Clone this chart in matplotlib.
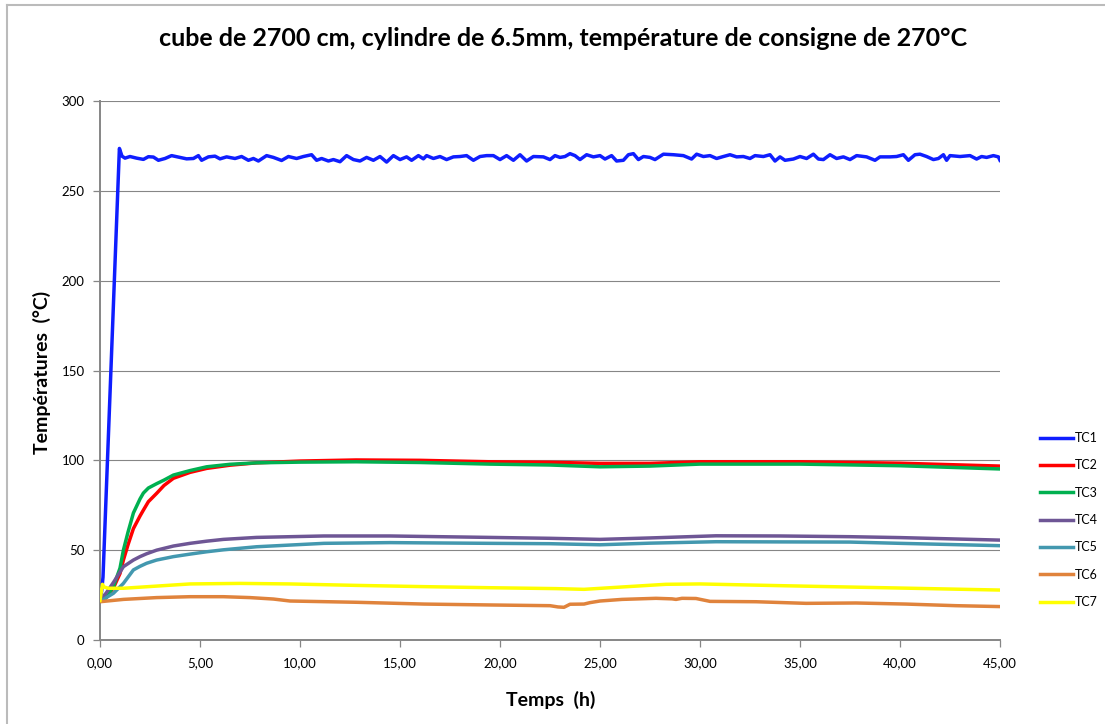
import matplotlib
matplotlib.use("Agg")
import matplotlib.pyplot as plt
from matplotlib.lines import Line2D
from matplotlib.ticker import FuncFormatter

plt.rcParams['font.family'] = ['Lato', 'DejaVu Sans']

title = "cube de 2700 cm, cylindre de 6.5mm, température de consigne de 270°C"
xlabel = "Temps  (h)"
ylabel = "Températures  (°C)"
series_names = ["TC1", "TC2", "TC3", "TC4", "TC5", "TC6", "TC7"]
colors = ["#0F1EFF", "#FF0000", "#00B050", "#6E5695", "#4398AF", "#E0833C", "#FFFF00"]

# TC1 (hot thermocouple) - noisy plateau
tc1_t = [0.0, 0.08, 0.15, 0.97, 1.10, 1.25, 1.50, 1.83, 2.17, 2.42, 2.67, 2.92, 3.25, 3.58,
         4.00, 4.33, 4.67, 4.92, 5.08, 5.42, 5.75, 6.00, 6.33, 6.75, 7.08, 7.42, 7.67, 7.92,
         8.33, 8.67, 9.08, 9.42, 9.83, 10.17, 10.58, 10.83, 11.08, 11.42, 11.67, 12.00, 12.33,
         12.67, 13.00, 13.33, 13.67, 14.00, 14.33, 14.67, 15.00, 15.33, 15.58, 15.92, 16.17,
         16.33, 16.67, 17.00, 17.33, 17.67, 18.00, 18.33, 18.67, 19.00, 19.33, 19.67, 20.00,
         20.33, 20.67, 21.00, 21.33, 21.67, 22.17,
         22.50, 22.75, 23.00, 23.25, 23.50, 23.75, 24.00, 24.33, 24.67, 25.00, 25.25, 25.58,
         25.83, 26.17, 26.42, 26.67, 26.92, 27.17, 27.50, 27.75, 28.17, 28.67, 29.17, 29.58,
         29.83, 30.17, 30.50, 30.83, 31.17, 31.50, 31.83, 32.17, 32.50, 32.75, 33.17, 33.50,
         33.75, 34.00, 34.25, 34.67, 35.00, 35.33, 35.67, 35.92, 36.17, 36.50, 36.83, 37.17,
         37.50, 37.83, 38.33, 38.75, 39.00, 39.50, 39.83, 40.17, 40.42, 40.75, 41.00, 41.33,
         41.67, 41.92, 42.17, 42.33, 42.50, 43.00, 43.50, 43.83, 44.08, 44.33, 44.67, 44.92,
         45.00]
tc1_v = [22.0, 27.0, 35.0, 273.6, 269.3, 268.2, 269.1, 268.2, 267.5, 269.0, 268.8, 267.0, 268.0, 269.6,
         268.6, 267.8, 268.0, 269.6, 267.0, 268.9, 269.3, 267.8, 268.9, 268.0, 269.1, 267.0, 268.0, 266.6,
         269.6, 268.6, 266.9, 269.1, 268.0, 269.1, 270.1, 267.0, 268.0, 266.6, 267.4, 266.2, 269.6,
         267.4, 266.6, 268.6, 267.0, 269.1, 266.0, 269.6, 267.4, 268.9, 267.0, 269.6, 267.8,
         269.6, 268.0, 269.1, 267.4, 268.9, 269.1, 269.6, 267.0, 269.1, 269.6, 269.6, 267.4,
         269.6, 267.0, 270.1, 266.6, 269.1, 268.9,
         267.4, 269.6, 268.6, 269.1, 270.7, 269.6, 267.4, 270.1, 268.9, 269.6, 267.7, 269.6,
         266.6, 267.0, 270.1, 270.7, 267.4, 269.1, 268.6, 267.4, 270.4, 270.1, 269.6, 267.7,
         270.4, 269.1, 269.6, 268.0, 269.1, 270.1, 268.9, 269.1, 268.0, 269.6, 269.1, 270.1,
         266.6, 268.9, 267.0, 267.7, 269.1, 268.0, 270.4, 267.7, 267.4, 270.1, 268.0, 268.9,
         267.4, 269.6, 268.9, 267.0, 268.9, 268.9, 269.1, 270.1, 267.0, 270.1, 270.4, 269.1,
         267.4, 268.0, 270.1, 267.0, 269.6, 269.1, 269.6, 267.7, 269.1, 268.6, 269.6, 268.9,
         267.0]

# TC2 / TC3
tc23_t = [0.0, 0.3, 0.67, 1.0, 1.17, 1.4, 1.67, 2.0, 2.17, 2.42, 2.83, 3.2, 3.67, 4.5, 5.33, 6.5,
          7.83, 10.0, 12.8, 16.0, 19.5, 22.5, 25.0, 27.5, 30.0, 35.0, 40.0, 45.0]
tc2_v = [22.0, 23.5, 29.0, 37.0, 44.5, 53.0, 62.0, 69.0, 72.3, 77.0, 81.6, 86.0, 90.0, 93.3, 95.5, 97.3,
         98.6, 99.6, 100.2, 100.0, 99.2, 98.9, 98.3, 98.3, 99.2, 99.2, 98.4, 96.8]
tc3_v = [22.0, 23.5, 29.7, 40.0, 50.0, 60.0, 70.7, 78.5, 81.8, 84.6, 87.0, 89.0, 91.8, 94.3, 96.4, 97.8,
         98.6, 99.0, 99.2, 98.8, 97.9, 97.4, 96.4, 96.8, 97.9, 97.9, 97.0, 95.2]

# TC4 / TC5
tc45_t = [0.0, 0.3, 0.67, 1.17, 1.67, 2.0, 2.33, 2.83, 3.67, 4.5, 5.33, 6.17, 7.83, 11.2, 14.5,
          19.5, 22.5, 25.0, 27.5, 30.8, 34.0, 37.5, 40.0, 45.0]
tc4_v = [22.3, 26.0, 32.0, 40.8, 44.5, 46.4, 48.0, 50.0, 52.3, 53.8, 55.0, 56.0, 57.1, 57.9, 57.9,
         57.1, 56.6, 56.0, 56.8, 58.0, 57.9, 57.5, 57.0, 55.6]
tc5_v = [21.3, 23.5, 26.0, 31.5, 39.0, 41.0, 42.7, 44.5, 46.4, 47.8, 49.1, 50.2, 51.9, 53.8, 54.2,
         53.8, 53.6, 53.0, 53.9, 54.7, 54.6, 54.5, 53.8, 52.5]

# TC6
tc6_t = [0.0, 1.17, 2.83, 4.5, 6.17, 7.5, 8.67, 9.5, 12.8, 16.2, 19.5, 22.5, 22.9, 23.2, 23.5,
         24.2, 24.5, 25.0, 26.1, 27.8, 28.6, 28.8, 29.1, 29.8, 30.5, 32.8, 35.3, 37.8, 40.3,
         42.8, 45.0]
tc6_v = [21.3, 22.6, 23.6, 24.1, 24.1, 23.6, 22.8, 21.7, 21.0, 20.0, 19.5, 19.1, 18.4, 18.2, 19.9,
         20.0, 20.8, 21.7, 22.6, 23.2, 22.9, 22.6, 23.2, 23.1, 21.5, 21.3, 20.4, 20.6, 20.0,
         19.1, 18.6]

# TC7
tc7_t = [0.0, 0.12, 0.2, 0.42, 1.17, 2.83, 4.5, 7.0, 9.5, 12.8, 16.2, 19.5, 22.8, 24.2, 25.8,
         28.3, 30.0, 34.2, 39.2, 45.0]
tc7_v = [22.0, 31.0, 29.5, 28.8, 28.8, 30.0, 31.2, 31.5, 31.2, 30.4, 29.7, 29.1, 28.6, 28.2, 29.3,
         31.0, 31.2, 30.2, 29.1, 27.8]

series = [(tc1_t, tc1_v), (tc23_t, tc2_v), (tc23_t, tc3_v), (tc45_t, tc4_v),
          (tc45_t, tc5_v), (tc6_t, tc6_v), (tc7_t, tc7_v)]

x_ticks = [0, 5, 10, 15, 20, 25, 30, 35, 40, 45]
y_ticks = [0, 50, 100, 150, 200, 250, 300]

W, H = 1105, 724
fig = plt.figure(figsize=(W / 100, H / 100), dpi=100)
ax = fig.add_axes([100 / W, (H - 640) / H, 900 / W, 539 / H])

gray = "#868686"
for i, ((t, v), c, n) in enumerate(zip(series, colors, series_names)):
    ax.plot(t, v, color=c, lw=2.5, label=n, solid_joinstyle='round', zorder=3 + i)

ax.set_xlim(0, 45)
ax.set_ylim(0, 300)
ax.set_xticks(x_ticks)
ax.set_yticks(y_ticks)
ax.xaxis.set_major_formatter(FuncFormatter(lambda v, p: f"{v:.2f}".replace(".", ",")))
ax.yaxis.set_major_formatter(FuncFormatter(lambda v, p: f"{int(v)}"))
ax.grid(axis='y', color=gray, lw=0.8, zorder=1)
ax.set_axisbelow(True)
for s in ['top', 'right']:
    ax.spines[s].set_visible(False)
for s in ['left', 'bottom']:
    ax.spines[s].set_color(gray)
    ax.spines[s].set_linewidth(1.4)
ax.tick_params(axis='both', colors=gray, length=5, width=0.9, labelcolor='black', labelsize=9.5)
ax.tick_params(axis='x', pad=7)
ax.tick_params(axis='y', pad=6)

fig.text(563 / W, 1 - 38 / H, title, ha='center', va='center', fontsize=18, fontweight='bold')
fig.text(551 / W, 1 - 700 / H, xlabel, ha='center', va='center', fontsize=14, fontweight='bold')
fig.text(42 / W, 1 - 372 / H, ylabel, ha='center', va='center', rotation=90, fontsize=14, fontweight='bold')

handles = [Line2D([0], [0], color=c, lw=2.5) for c in colors]
fig.legend(handles, series_names, loc='center left', bbox_to_anchor=(1040 / W, 1 - 520 / H),
           frameon=False, fontsize=9, handlelength=2.6, handletextpad=0.2, labelspacing=1.23,
           borderaxespad=0, borderpad=0)

# outer chart border (top and left visible)
fig.add_artist(Line2D([6.5 / W, 6.5 / W], [0, 1 - 4.5 / H], color="#BBBBBB", lw=1.5))
fig.add_artist(Line2D([6.5 / W, 1], [1 - 4.5 / H, 1 - 4.5 / H], color="#BBBBBB", lw=1.5))

fig.savefig("out.png", dpi=100)
